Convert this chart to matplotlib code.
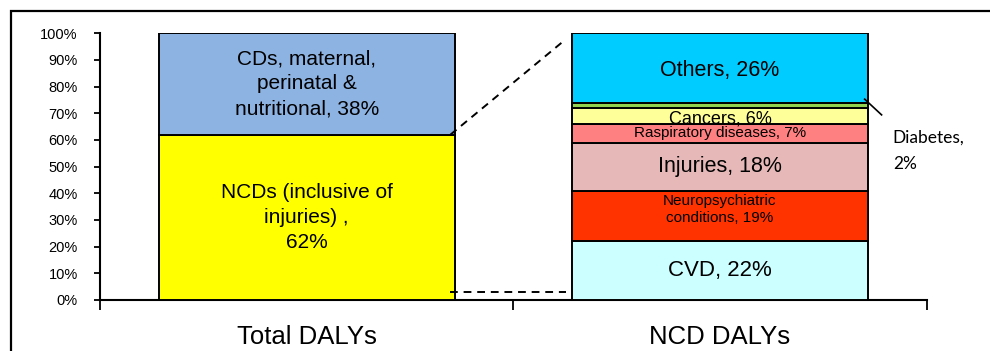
import matplotlib.pyplot as plt
from matplotlib.patches import Rectangle
from matplotlib.ticker import FixedLocator, PercentFormatter

plt.rcParams["font.family"] = ["Liberation Sans", "DejaVu Sans"]

# Total DALYs split
total_labels = ["NCDs (inclusive of\ninjuries) ,\n62%", "CDs, maternal,\nperinatal &\nnutritional, 38%"]
total_values = [62, 38]
total_colors = ["#FFFF00", "#8DB3E2"]

# NCD DALYs split (bottom to top)
ncd_labels = ["CVD, 22%", "Neuropsychiatric\nconditions, 19%", "Injuries, 18%",
              "Raspiratory diseases, 7%", "Cancers, 6%", "", "Others, 26%"]
ncd_values = [22, 19, 18, 7, 6, 2, 26]
ncd_colors = ["#CCFFFF", "#FF3300", "#E6B9B8", "#FF8080", "#FFFF99", "#92D050", "#00CCFF"]
ncd_sizes = [16, 11, 15.5, 11, 13, 9, 15.5]

categories = ["Total DALYs", "NCD DALYs"]
bar_w = 0.716

fig = plt.figure(figsize=(9.9, 3.51), dpi=100)
ax = fig.add_axes([0.101, 0.1453, 0.835, 0.760])

bottom = 0
for lab, val, col in zip(total_labels, total_values, total_colors):
    ax.bar(0, val, bar_w, bottom=bottom, color=col, edgecolor="black", linewidth=1.4, zorder=3)
    ax.text(0, bottom + val / 2, lab, ha="center", va="center", fontsize=15,
            linespacing=1.4, zorder=4)
    bottom += val

bottom = 0
for lab, val, col, fs in zip(ncd_labels, ncd_values, ncd_colors, ncd_sizes):
    ax.bar(1, val, bar_w, bottom=bottom, color=col, edgecolor="black", linewidth=1.4, zorder=3)
    if lab:
        y = bottom + val / 2
        if lab.startswith("Neuro"):
            y += 2.5
        elif lab.startswith("Cancers"):
            y -= 1
        elif lab.startswith("Others"):
            y -= 1
        ax.text(1, y, lab, ha="center", va="center", fontsize=fs, linespacing=1.3, zorder=4)
    bottom += val

# Diabetes callout
ax.plot([1.35, 1.391], [75.3, 69.4], color="black", lw=1.2, zorder=5, clip_on=False)
ax.text(1.418, 61, "Diabetes,", family=["Lato", "DejaVu Sans"], fontsize=12.5, va="center")
ax.text(1.418, 51, "2%", family=["Lato", "DejaVu Sans"], fontsize=12.5, va="center")

# connector lines between the bars
right0 = bar_w / 2
left1 = 1 - bar_w / 2
ax.plot([right0 - 0.01, 0.625], [62, 97.5], color="black", lw=1.4, ls=(0, (4, 3)), zorder=5)
ax.plot([right0 - 0.01, left1 - 0.015], [3.1, 3.1], color="black", lw=1.4, ls=(0, (4, 3)), zorder=5)

ax.set_xlim(-0.5, 1.5)
ax.set_ylim(0, 100)
ax.yaxis.set_major_locator(FixedLocator(range(0, 101, 10)))
ax.yaxis.set_major_formatter(PercentFormatter(decimals=0))
ax.tick_params(axis="y", direction="out", length=4, width=1.3, pad=12, labelsize=10.5)

ax.set_xticks([0, 1])
ax.set_xticklabels(categories, fontsize=18.5)
ax.tick_params(axis="x", which="major", length=0, pad=18)
ax.set_xticks([-0.5, 0.5, 1.5], minor=True)
ax.tick_params(axis="x", which="minor", direction="out", length=7, width=1.3)

for s in ["top", "right"]:
    ax.spines[s].set_visible(False)
for s in ["left", "bottom"]:
    ax.spines[s].set_linewidth(1.5)

# outer border
fig.patches.append(Rectangle((11 / 990, -0.1), 1.2, 1 - 11 / 351 + 0.1, transform=fig.transFigure,
                             fill=False, edgecolor="black", linewidth=1.6))

fig.savefig("out.png", dpi=100)
